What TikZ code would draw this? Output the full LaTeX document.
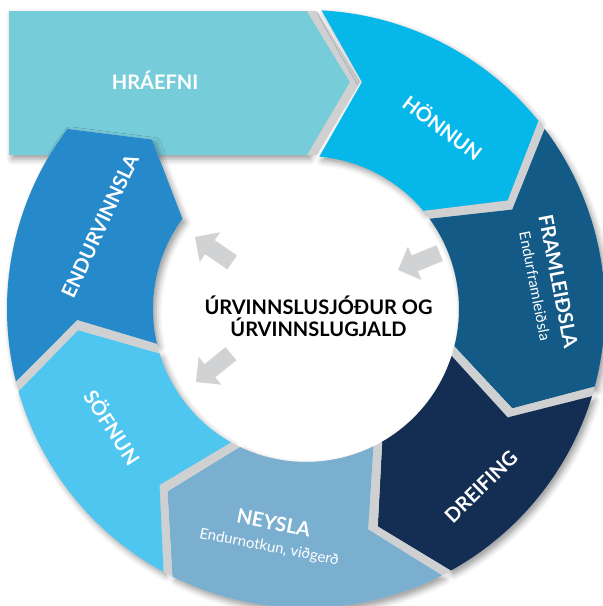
\documentclass[tikz,border=0pt]{standalone}
\usepackage{fontspec}
\setmainfont{Lato}
\usetikzlibrary{shadows.blur}

\definecolor{raw}{HTML}{77CCD9}
\definecolor{design}{HTML}{06B8EA}
\definecolor{produce}{HTML}{135A86}
\definecolor{distrib}{HTML}{132E52}
\definecolor{consume}{HTML}{7AAFD0}
\definecolor{collect}{HTML}{4FC6F0}
\definecolor{recycle}{HTML}{2589CA}
\definecolor{gapgrey}{HTML}{CFD0D2}
\definecolor{hubgrey}{HTML}{D1D2D4}

% ring sizes (pt) and gaps (deg)
\def\Ro{299pt}
\def\Ri{153pt}
\def\Rm{229pt}
\def\dd{11}
\def\gR{0.96}
\def\gM{1.27}
\def\gI{1.87}
% one chevron piece of the ring: start angle, end angle, sign of start gap
\newcommand{\ringseg}[3]{(#1#3\gR:\Ro) arc[start angle=#1#3\gR, end angle=#2+\gR, radius=\Ro]
  -- (#2-\dd+\gM:\Rm) -- (#2+\gI:\Ri) arc[start angle=#2+\gI, end angle=#1#3\gI, radius=\Ri]
  -- (#1-\dd#3\gM:\Rm) -- cycle}
\newcommand{\subfont}{\mdseries\fontsize{15}{17}\selectfont}

\begin{document}
\begin{tikzpicture}[x=1pt,y=1pt]
    \tikzstyle{stage}=[text=white, font=\bfseries\fontsize{20}{22}\selectfont, align=center, inner sep=0pt]
    \tikzstyle{hub}=[text=black, font=\bfseries\fontsize{20}{22}\selectfont, align=center, inner sep=0pt]
    \tikzstyle{hub arrow}=[fill=hubgrey]
    \tikzstyle{soft shadow}=[blur shadow={shadow xshift=3pt, shadow yshift=-4pt, shadow blur radius=6pt, shadow opacity=40}]
    \begin{scope}[shift={(306,-309)}]
    \useasboundingbox (-306,-297) rectangle (297,309);
    % Draw the raw material band
    \fill[soft shadow, raw] (-297,298) -- (1,298) -- (44,227) -- (1,154) -- (-297,154) -- cycle;
    \fill[gapgrey] (1,298) -- (11,298) -- (54,227) -- (11,154) -- (1,154) -- (44,227) -- cycle;
    % Shadows of the ring
    \path[soft shadow] (87:\Ro) arc[start angle=87, end angle=38+\gR, radius=\Ro]
        -- (38-\dd+\gM:\Rm) -- (38+\gI:\Ri) arc[start angle=38+\gI, end angle=85, radius=\Ri] -- (56,227) -- cycle;
    \foreach \a/\b in {38/-16, -16/-62, -62/-117.5, -117.5/-165, -165/-218}
        \path[soft shadow] \ringseg{\a}{\b}{-};
    % Draw the ring pieces
    \fill[design] (87:\Ro) arc[start angle=87, end angle=38+\gR, radius=\Ro]
        -- (38-\dd+\gM:\Rm) -- (38+\gI:\Ri) arc[start angle=38+\gI, end angle=85, radius=\Ri] -- (56,227) -- cycle;
    \foreach \a/\b/\col in {38/-16/produce, -16/-62/distrib, -62/-117.5/consume, -117.5/-165/collect, -165/-218/recycle}
    {
        \fill[gapgrey] \ringseg{\a}{\b}{+};
        \fill[\col] \ringseg{\a}{\b}{-};
    }
    % Label the stages
    \node[stage] (hraefni) at (-151,229) {HRÁEFNI};
    \node[stage, rotate=-37] (honnun) at (53:228pt) {HÖNNUN};
    \node[stage, rotate=-79] (framleidsla) at (6:243pt) {FRAMLEIÐSLA\\{\subfont Endurframleiðsla}};
    \node[stage, rotate=44.5] (dreifing) at (175,-178) {DREIFING};
    \node[stage, rotate=-11] (neysla) at (-34.5,-226) {NEYSLA\\{\subfont Endurnotkun, viðgerð}};
    \node[stage, rotate=-57] (sofnun) at (-193,-118) {SÖFNUN};
    \node[stage, rotate=65] (endurvinnsla) at (-206,83) {ENDURVINNSLA};
    % The fund in the middle, with its arrows
    \node[hub] (sjodur) at (12.5,-7) {ÚRVINNSLUSJÓÐUR OG\\ÚRVINNSLUGJALD};
    \foreach \x/\y/\ang in {-111/72/145.6, 92/39/202, -110/-73/219}
        \fill[hub arrow, shift={(\x,\y)}, rotate=\ang]
            (0,0) -- (-18,18) -- (-18,8.5) -- (-45,8.5) -- (-45,-8.5) -- (-18,-8.5) -- (-18,-18) -- cycle;
    \end{scope}
\end{tikzpicture}
\end{document}
